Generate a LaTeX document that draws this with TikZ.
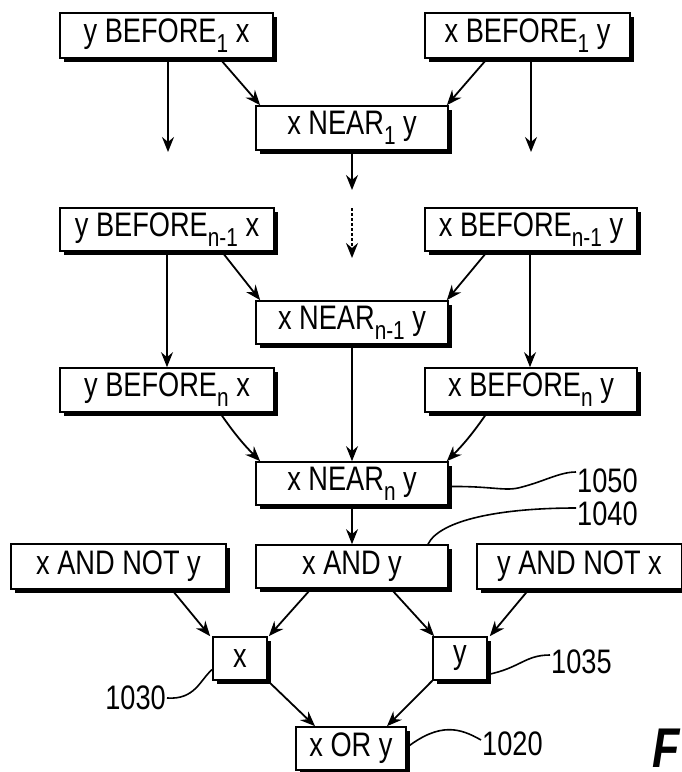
\documentclass[tikz,border=0pt]{standalone}
\usepackage{fontspec}
\setmainfont{Liberation Sans}[FakeStretch=0.8]
\usetikzlibrary{arrows.meta,shadows}
\newcommand\sbs[1]{\raisebox{-0.3em}{\fontsize{26}{26}\selectfont #1}}
\begin{document}
\begin{tikzpicture}[x=1pt,y=-1pt,
  bx/.style={draw, fill=white, line width=1.7pt, inner sep=0pt,
    font=\fontsize{34}{40}\selectfont,
    drop shadow={shadow xshift=4pt, shadow yshift=-4pt, fill=black, opacity=1}},
  arr/.style={line width=1.8pt, -{Stealth[length=15pt,width=12pt,inset=5pt]}},
  lead/.style={line width=1.6pt},
  lbl/.style={font=\fontsize{34}{40}\selectfont, inner sep=1pt}]
\useasboundingbox (0,0) rectangle (682,772);
% boxes
\node[bx, minimum width=213pt, minimum height=45pt] (b1L) at (166.5,35.5) {y BEFORE\sbs{1} x};
\node[bx, minimum width=205pt, minimum height=45pt] (b1R) at (527.5,35.5) {x BEFORE\sbs{1} y};
\node[bx, minimum width=192pt, minimum height=44pt] (n1) at (352,128) {x NEAR\sbs{1} y};
\node[bx, minimum width=214pt, minimum height=43pt] (bn1L) at (167,229.5) {y BEFORE\sbs{n-1} x};
\node[bx, minimum width=212pt, minimum height=43pt] (bn1R) at (531,229.5) {x BEFORE\sbs{n-1} y};
\node[bx, minimum width=192pt, minimum height=43pt] (nn1) at (352,322.5) {x NEAR\sbs{n-1} y};
\node[bx, minimum width=214pt, minimum height=44pt] (bnL) at (167,390) {y BEFORE\sbs{n} x};
\node[bx, minimum width=212pt, minimum height=44pt] (bnR) at (531,390) {x BEFORE\sbs{n} y};
\node[bx, minimum width=192pt, minimum height=43pt] (nn) at (352,483.5) {x NEAR\sbs{n} y};
\node[bx, minimum width=215pt, minimum height=45pt] (axny) at (118.5,566.5) {x AND NOT y};
\node[bx, minimum width=192pt, minimum height=43pt] (axy) at (352,566.5) {x AND y};
\node[bx, minimum width=205pt, minimum height=45pt] (aynx) at (579.5,566.5) {y AND NOT x};
\node[bx, minimum width=54pt, minimum height=43pt] (xb) at (240,658.5) {x};
\node[bx, minimum width=54pt, minimum height=43pt] (yb) at (460,658.5) {y};
\node[bx, minimum width=110pt, minimum height=43pt] (or) at (351,748.5) {x OR y};
% free ends
\coordinate (e1L) at (168,152);
\coordinate (e1R) at (531,152);
\coordinate (e1C) at (352,190);
\coordinate (d1) at (352,208);
\coordinate (d2) at (352,258);
% top arrows
\draw[arr] (b1L.south -| e1L) -- (e1L);
\draw[arr] (b1R.south -| e1R) -- (e1R);
\draw[arr] ([xshift=53.5pt]b1L.south) -- ([xshift=5pt]n1.north west);
\draw[arr] ([xshift=-40.5pt]b1R.south) -- ([xshift=-2pt]n1.north east);
\draw[arr] (n1.south) -- (e1C);
\draw[arr, densely dashed] (d1) -- (d2);
% middle arrows
\draw[arr] ([xshift=55pt]bn1L.south) -- ([xshift=5pt]nn1.north west);
\draw[arr] ([xshift=-44pt]bn1R.south) -- ([xshift=-2pt]nn1.north east);
\draw[arr] (bn1L.south) -- (bnL.north);
\draw[arr] ([xshift=-1pt]bn1R.south) -- ([xshift=-1pt]bnR.north);
\draw[arr] ([xshift=53pt]bnL.south) to[bend right=5] ([xshift=5pt]nn.north west);
\draw[arr] ([xshift=-44pt]bnR.south) to[bend left=5] ([xshift=-2pt]nn.north east);
\draw[arr] (nn1.south) -- (nn.north);
\draw[arr] (nn.south) -- (axy.north);
% bottom arrows
\draw[arr] ([xshift=53.5pt]axny.south) -- ([xshift=-2pt]xb.north west);
\draw[arr] ([xshift=-41pt]axy.south) -- ([xshift=1pt]xb.north east);
\draw[arr] ([xshift=39pt]axy.south) -- ([xshift=2pt]yb.north west);
\draw[arr] ([xshift=-51pt]aynx.south) -- ([xshift=2pt]yb.north east);
\draw[arr] (xb.south east) -- ([xshift=-36pt]or.north);
\draw[arr] (yb.south west) -- ([xshift=36pt]or.north);
% labels
\node[lbl, anchor=west] (l1050) at (576,481) {1050};
\node[lbl, anchor=west] (l1040) at (576,514) {1040};
\node[lbl, anchor=west] (l1035) at (550,662) {1035};
\node[lbl, anchor=east] (l1030) at (167,698) {1030};
\node[lbl, anchor=west] (l1020) at (481,744) {1020};
\draw[lead] ([yshift=-3pt]nn.east) .. controls (495,486) and (505,492) .. (522,487)
  .. controls (545,481) and (560,472) .. ([yshift=9pt]l1050.west);
\draw[lead] ([xshift=76pt]axy.north) .. controls (440,520) and (500,508) .. ([yshift=6pt]l1040.west);
\draw[lead] ([yshift=-16pt]yb.east) .. controls (520,668) and (525,655) .. ([yshift=7pt]l1035.west);
\draw[lead] (l1030.east) .. controls (195,700) and (200,680) .. ([yshift=-11pt]xb.west);
\draw[lead] ([yshift=1pt]or.east) .. controls (440,722) and (460,728) .. ([yshift=4pt]l1020.west);
\node[anchor=west, inner sep=0pt, font=\fontsize{56}{60}\selectfont\bfseries\itshape] (fig) at (652,748) {F};
\end{tikzpicture}
\end{document}
